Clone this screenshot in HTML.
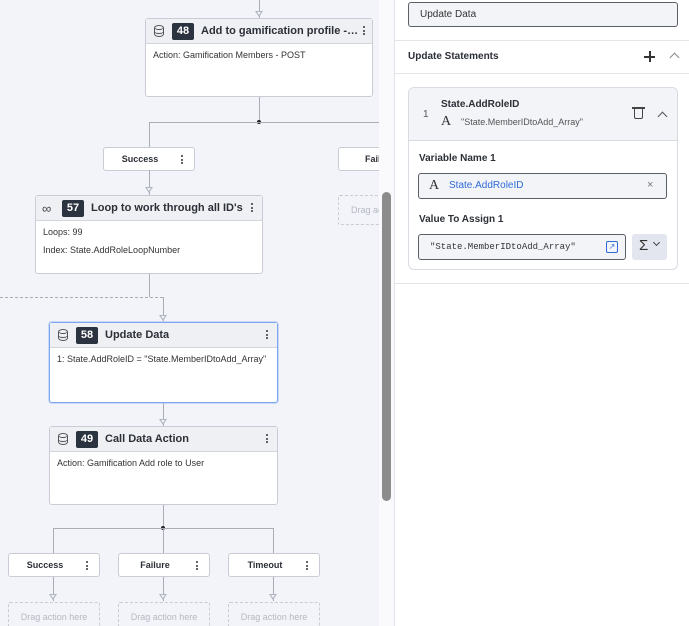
<!DOCTYPE html>
<html><head><style>
*{box-sizing:border-box;margin:0;padding:0}
body{width:689px;height:626px;overflow:hidden;background:#fff;font-family:"Liberation Sans",sans-serif;position:relative;color:#222}
.canvas{position:absolute;left:0;top:0;width:379px;height:626px;background:#f3f4f9;overflow:hidden}
.abs{position:absolute}
.node{position:absolute;background:#fff;border:1px solid #c9ccd4;border-radius:3px}
.node .hd{height:25px;background:#eef0f4;border-bottom:1px solid #d3d6dd;position:relative}
.node .t{position:absolute;top:6px;font-size:11px;font-weight:bold;color:#2b2f36;white-space:nowrap;overflow:hidden;text-overflow:ellipsis}
.badge{position:absolute;top:4px;height:17px;background:#2c3340;color:#fff;font-size:11px;font-weight:bold;border-radius:2px;text-align:center;line-height:17px;width:22px}
.dots{position:absolute;right:8px;top:7px;width:3px}
.dots i{display:block;width:2px;height:2px;background:#333;margin:0 0 1.5px 0;border-radius:1px}
.body{font-size:9px;color:#333;padding:5px 7px;line-height:12px}
.ic{position:absolute;left:8px;top:6px;width:10px;height:12px;border:1.3px solid #555;border-radius:5px/3px}
.ic:before,.ic:after{content:"";position:absolute;left:-1px;right:-1px;height:3px;border-bottom:1.2px solid #555;border-radius:0 0 5px 5px}
.ic:before{top:0}.ic:after{top:3.5px}
.br{position:absolute;background:#fff;border:1px solid #c9ccd4;border-radius:3px;height:24px;font-size:9px;font-weight:bold;color:#2b2f36;line-height:22px}
.br span{position:absolute;left:0;right:18px;text-align:center}
.br .dots{top:7px;right:10px}
.drag{position:absolute;border:1px dashed #c9ccd4;border-radius:2px;font-size:9px;color:#b4b8c2;text-align:center;line-height:28px;height:30px}
.vl{position:absolute;width:1px;background:#a9adb7}
.hl{position:absolute;height:1px;background:#a9adb7}
.ar{position:absolute;width:0;height:0;border-left:4px solid transparent;border-right:4px solid transparent;border-top:6px solid #b0b4be}
.ar:after{content:"";position:absolute;left:-2.5px;top:-5px;border-left:2.5px solid transparent;border-right:2.5px solid transparent;border-top:3.5px solid #f3f4f9}
.lbl{position:absolute;font-size:10px;font-weight:bold;color:#2b2f36}
.inp{position:absolute;border:1px solid #5a5e66;border-radius:3px;background:#f3f4f8}
.chev{position:absolute;width:7px;height:7px;border-left:1.3px solid #555;border-top:1.3px solid #555;transform:rotate(45deg)}
</style></head><body>
<div class="canvas">
<div class="vl" style="left:259px;top:0;height:18px"></div><div class="ar" style="left:255px;top:11px"></div>
<div class="node" style="left:145px;top:18px;width:228px;height:79px"><div class="hd"><div class="ic"></div><div class="badge" style="left:26px">48</div><div class="t" style="left:55px;width:160px">Add to gamification profile - Call</div><div class="dots" style="right:6px"><i></i><i></i><i></i></div></div><div class="body">Action: Gamification Members - POST</div></div>
<div class="vl" style="left:259px;top:97px;height:25px"></div>
<div class="abs" style="left:257px;top:120px;width:4px;height:4px;background:#222;border-radius:2px"></div>
<div class="hl" style="left:149px;top:122px;width:240px"></div>
<div class="vl" style="left:149px;top:122px;height:25px"></div>
<div class="br" style="left:103px;top:147px;width:92px"><span>Success</span><div class="dots"><i></i><i></i><i></i></div></div>
<div class="br" style="left:338px;top:147px;width:92px"><span style="left:0;right:auto;width:100px;text-align:left;padding-left:26px">Fail</span></div>
<div class="drag" style="left:338px;top:195px;width:92px;text-align:left;padding-left:12px">Drag action here</div>
<div class="vl" style="left:149px;top:170px;height:25px"></div><div class="ar" style="left:145px;top:187px"></div>
<div class="node" style="left:35px;top:195px;width:228px;height:79px"><div class="hd"><div class="abs" style="left:6px;top:5px;font-size:13px;color:#444">∞</div><div class="badge" style="left:26px">57</div><div class="t" style="left:55px">Loop to work through all ID's</div><div class="dots"><i></i><i></i><i></i></div></div><div class="body" style="line-height:18px;padding-top:2px">Loops: 99<br>Index: State.AddRoleLoopNumber</div></div>
<div class="vl" style="left:149px;top:274px;height:23px"></div>
<div class="abs" style="left:0;top:297px;width:163px;border-top:1px dashed #a9adb7"></div>
<div class="vl" style="left:163px;top:297px;height:25px"></div><div class="ar" style="left:159px;top:315px"></div>
<div class="node" style="left:49px;top:322px;width:229px;height:81px;border:1.5px solid #7ea6ec;box-shadow:0 0 0 1px #c9d9f7"><div class="hd"><div class="ic"></div><div class="badge" style="left:26px">58</div><div class="t" style="left:55px">Update Data</div><div class="dots"><i></i><i></i><i></i></div></div><div class="body">1: State.AddRoleID = "State.MemberIDtoAdd_Array"</div></div>
<div class="vl" style="left:163px;top:403px;height:23px"></div><div class="ar" style="left:159px;top:419px"></div>
<div class="node" style="left:49px;top:426px;width:229px;height:79px"><div class="hd"><div class="ic"></div><div class="badge" style="left:26px">49</div><div class="t" style="left:55px">Call Data Action</div><div class="dots"><i></i><i></i><i></i></div></div><div class="body">Action: Gamification Add role to User</div></div>
<div class="vl" style="left:163px;top:505px;height:23px"></div>
<div class="abs" style="left:161px;top:526px;width:4px;height:4px;background:#222;border-radius:2px"></div>
<div class="hl" style="left:53px;top:528px;width:221px"></div>
<div class="vl" style="left:53px;top:528px;height:25px"></div>
<div class="vl" style="left:163px;top:528px;height:25px"></div>
<div class="vl" style="left:273px;top:528px;height:25px"></div>
<div class="br" style="left:8px;top:553px;width:92px"><span>Success</span><div class="dots"><i></i><i></i><i></i></div></div>
<div class="br" style="left:118px;top:553px;width:92px"><span>Failure</span><div class="dots"><i></i><i></i><i></i></div></div>
<div class="br" style="left:228px;top:553px;width:92px"><span>Timeout</span><div class="dots"><i></i><i></i><i></i></div></div>
<div class="vl" style="left:53px;top:577px;height:24px"></div><div class="ar" style="left:49px;top:594px"></div>
<div class="vl" style="left:163px;top:577px;height:24px"></div><div class="ar" style="left:159px;top:594px"></div>
<div class="vl" style="left:273px;top:577px;height:24px"></div><div class="ar" style="left:269px;top:594px"></div>
<div class="drag" style="left:8px;top:602px;width:92px">Drag action here</div>
<div class="drag" style="left:118px;top:602px;width:92px">Drag action here</div>
<div class="drag" style="left:228px;top:602px;width:92px">Drag action here</div>
</div>
<div class="abs" style="left:379px;top:0;width:15px;height:626px;background:#fafafc"></div>
<div class="abs" style="left:382px;top:192px;width:9px;height:309px;background:#8c8c8c;border-radius:5px"></div>
<div class="abs" style="left:394px;top:0;width:1px;height:626px;background:#e1e3e8"></div>

<div class="inp" style="left:408px;top:2px;width:270px;height:25px;font-size:10px;line-height:23px;padding-left:11px;color:#333">Update Data</div>
<div class="abs" style="left:395px;top:40px;width:294px;height:1px;background:#e3e5ea"></div>
<div class="lbl" style="left:408px;top:51px">Update Statements</div>
<div class="abs" style="left:644px;top:56px;width:11px;height:1.5px;background:#333"></div>
<div class="abs" style="left:649px;top:51px;width:1.5px;height:11px;background:#333"></div>
<div class="chev" style="left:671px;top:54px;border-color:#888"></div>
<div class="abs" style="left:395px;top:73px;width:294px;height:1px;background:#e3e5ea"></div>
<div class="abs" style="left:408px;top:87px;width:270px;height:183px;border:1px solid #d8dbe1;border-radius:6px;overflow:hidden">
 <div style="height:53px;background:#f3f4f8;border-bottom:1px solid #d8dbe1;position:relative">
  <div class="abs" style="left:14px;top:21px;font-size:10px;color:#555">1</div>
  <div class="abs" style="left:32px;top:11px;font-size:10px;font-weight:bold;color:#2b2f36">State.AddRoleID</div>
  <div class="abs" style="left:32px;top:26px;font-family:'Liberation Serif',serif;font-size:14px;color:#333">A</div>
  <div class="abs" style="left:52px;top:29px;font-size:9px;color:#555">"State.MemberIDtoAdd_Array"</div>
  <div class="abs" style="left:225px;top:20px;width:9px;height:11px;border:1.3px solid #444;border-top:none;border-radius:0 0 2px 2px"></div>
  <div class="abs" style="left:223px;top:19px;width:13px;height:1.5px;background:#444"></div>
  <div class="chev" style="left:250px;top:25px"></div>
 </div>
</div>
<div class="lbl" style="left:419px;top:153px">Variable Name 1</div>
<div class="inp" style="left:418px;top:173px;width:249px;height:26px">
 <div class="abs" style="left:10px;top:4px;font-family:'Liberation Serif',serif;font-size:14px;color:#333">A</div>
 <div class="abs" style="left:30px;top:6px;font-size:10px;color:#2f6ad9">State.AddRoleID</div>
 <div class="abs" style="left:228px;top:5px;font-size:11px;color:#777">×</div>
</div>
<div class="lbl" style="left:419px;top:214px">Value To Assign 1</div>
<div class="inp" style="left:418px;top:234px;width:208px;height:26px">
 <div class="abs" style="left:11px;top:7px;font-family:'Liberation Mono',monospace;font-size:9px;color:#333">"State.MemberIDtoAdd_Array"</div>
 <div class="abs" style="left:187px;top:6px;width:12px;height:12px;border:1.3px solid #2f6ad9;border-radius:2px;font-size:8px;color:#2f6ad9;line-height:9px;text-align:center">↗</div>
</div>
<div class="abs" style="left:632px;top:234px;width:35px;height:26px;background:#e3e6ee;border-radius:3px"></div>
<div class="abs" style="left:639px;top:237px;font-size:15px;color:#333">Σ</div>
<div class="chev" style="left:654px;top:240px;transform:rotate(225deg);width:5px;height:5px;border-color:#444"></div>
<div class="abs" style="left:395px;top:283px;width:294px;height:1px;background:#e3e5ea"></div>
</body></html>
